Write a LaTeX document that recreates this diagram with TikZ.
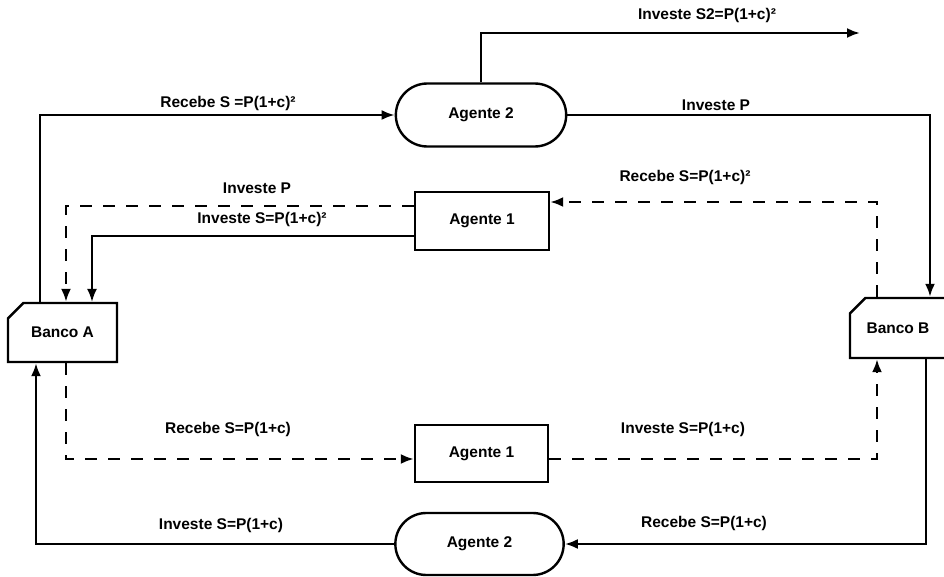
\documentclass[tikz,border=0pt]{standalone}
\usepackage{fontspec}
\setmainfont{Liberation Sans}
\usepackage{tikz}
\usetikzlibrary{positioning,shapes.misc,arrows.meta}

\begin{document}
\begin{tikzpicture}
  [x=1pt,y=-1pt,line width=2.4pt,>={Latex[length=13pt,width=10pt]},
   every node/.style={font=\fontsize{15.5}{17}\selectfont\bfseries},
   agent/.style={draw,rectangle,minimum width=134pt,minimum height=58pt},
   walker/.style={draw,rounded rectangle,minimum width=177pt,minimum height=63pt},
   bank/.style={draw,chamfered rectangle,chamfered rectangle corners=north west,
     chamfered rectangle xsep=10pt,chamfered rectangle ysep=10pt,
     minimum width=109pt,minimum height=59pt,inner sep=0pt},
   lbl/.style={inner sep=1pt}]
  \useasboundingbox (0,0) rectangle (944,577);

  \node[walker] (ag2t) at (481,115) {Agente 2};
  \node[agent] (ag1t) at (482,221) {Agente 1};
  \node[bank] (bA) at (62.5,332.5) {Banco A};
  \node[bank, minimum width=96pt, minimum height=60pt] (bB) at (898,328) {Banco B};
  \node[agent, minimum width=133pt, minimum height=57pt] (ag1b) at (481.5,453.5) {Agente 1};
  \node[walker, minimum width=175pt, minimum height=62pt] (ag2b) at (479.5,544) {Agente 2};
  \coordinate (out) at (860,33);

  % labels
  \node[lbl] (l1) at (707,15) {Investe S2=P(1+c)²};
  \node[lbl] (l2) at (228,103) {Recebe S =P(1+c)²};
  \node[lbl] (l3) at (716,105) {Investe P};
  \node[lbl] (l4) at (685,177) {Recebe S=P(1+c)²};
  \node[lbl] (l5) at (257,188) {Investe P};
  \node[lbl] (l6) at (262,219) {Investe S=P(1+c)²};
  \node[lbl] (l7) at (228,429) {Recebe S=P(1+c)};
  \node[lbl] (l8) at (683,429) {Investe S=P(1+c)};
  \node[lbl] (l9) at (221,525) {Investe S=P(1+c)};
  \node[lbl] (l10) at (704,523) {Recebe S=P(1+c)};

  % solid flows
  \draw[->] (ag2t.north) |- (out);
  \draw[->] ([xshift=-22.5]bA.north) |- (ag2t.west);
  \draw[->] (ag2t.east) -| ([xshift=32]bB.north);
  \draw[->] (ag2b.west) -| ([xshift=-26.5]bA.south);
  \draw[->] ([xshift=28]bB.south) |- (ag2b.east);
  \draw[->,line width=1.6pt] ([yshift=-15]ag1t.west) -| ([xshift=29.5]bA.north);

  % dashed flows
  \begin{scope}[dash pattern=on 12pt off 11pt]
    \draw[->] ([xshift=-21]bB.north) |- ([yshift=19]ag1t.east);
    \draw[->] ([yshift=15]ag1t.west) -| ([xshift=3.5]bA.north);
    \draw[->] ([xshift=3.5]bA.south) |- ([yshift=-5.5]ag1b.west);
    \draw[->] ([yshift=-5.5]ag1b.east) -| ([xshift=-21]bB.south);
  \end{scope}
\end{tikzpicture}
\end{document}
